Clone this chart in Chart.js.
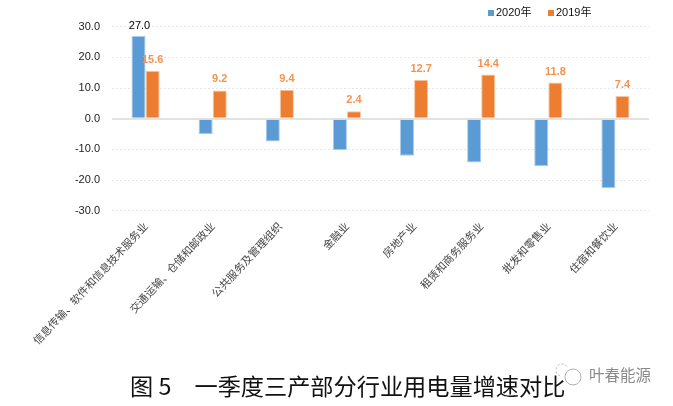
<!DOCTYPE html>
<html>
<head>
<meta charset="utf-8">
<script src="https://cdn.jsdelivr.net/npm/chart.js@4"></script>
<style>
  html, body { margin: 0; padding: 0; background: #fff; }
  #wrap { width: 673px; height: 406px; }
</style>
</head>
<body>
<div id="wrap"><canvas id="industryChart"></canvas></div>
<script>
const categories = ['信息传输、软件和信息技术服务业', '交通运输、仓储和邮政业', '公共服务及管理组织', '金融业', '房地产业', '租赁和商务服务业', '批发和零售业', '住宿和餐饮业'];
const values2020 = [27.0, -5.1, -7.4, -10.2, -12.1, -14.3, -15.5, -22.7];
const values2019 = [15.6, 9.2, 9.4, 2.4, 12.7, 14.4, 11.8, 7.4];
const chartTitle = '图 5\u3000一季度三产部分行业用电量增速对比';
const watermark = '叶春能源';

const cjkFont = '"Liberation Sans", "Noto Sans CJK SC", sans-serif';

// Value labels, legend, caption and watermark sit where the axes leave no room for the built-in ones
const annotations = {
    id: 'annotations',
    afterDatasetsDraw(chart) {
        const ctx = chart.ctx;
        ctx.save();
        ctx.textAlign = 'center';
        ctx.textBaseline = 'alphabetic';
        ctx.font = '11px ' + cjkFont;

        // only the first blue bar carries a label in the original
        const blue = chart.getDatasetMeta(0).data[0];
        ctx.fillStyle = '#000000';
        ctx.fillText(values2020[0].toFixed(1), blue.x + 1, blue.y - 7);

        ctx.font = 'bold 11px ' + cjkFont;
        ctx.fillStyle = '#F4934F';
        chart.getDatasetMeta(1).data.forEach((bar, i) => {
            ctx.fillText(values2019[i].toFixed(1), bar.x, bar.y - 8);
        });

        // legend
        ctx.textAlign = 'left';
        ctx.font = '11px ' + cjkFont;
        const legendX = [488, 548];
        chart.data.datasets.forEach((ds, i) => {
            ctx.fillStyle = ds.backgroundColor;
            ctx.fillRect(legendX[i], 10, 6, 6);
            ctx.fillStyle = '#111111';
            ctx.fillText(ds.label, legendX[i] + 8, 16);
        });

        // caption
        ctx.fillStyle = '#111111';
        ctx.font = '23.2px "Noto Sans CJK SC", sans-serif';
        ctx.fillText(chartTitle, 130, 395);

        // watermark
        ctx.fillStyle = '#8a8a8a';
        ctx.font = '15.5px "Noto Sans CJK SC", sans-serif';
        ctx.fillText(watermark, 589, 381);
        ctx.strokeStyle = '#b0b0b0';
        ctx.lineWidth = 1;
        ctx.beginPath();
        ctx.arc(573, 377, 8, 0, Math.PI * 2);
        ctx.stroke();
        ctx.setLineDash([2, 2]);
        ctx.beginPath();
        ctx.arc(562, 370, 6, Math.PI * 0.6, Math.PI * 1.9);
        ctx.stroke();
        ctx.restore();
    }
};

new Chart(document.getElementById('industryChart').getContext('2d'), {
    type: 'bar',
    data: {
        labels: categories,
        datasets: [{
            label: '2020年',
            data: values2020,
            backgroundColor: '#5B9BD5',
            borderColor: '#A9CDEC',
            borderWidth: 1
        }, {
            label: '2019年',
            data: values2019,
            backgroundColor: '#ED7D31',
            borderColor: '#F8C6A2',
            borderWidth: 1
        }]
    },
    options: {
        responsive: true,
        maintainAspectRatio: false,
        animation: false,
        layout: { padding: { top: 26.7, right: 24 } },
        datasets: { bar: { categoryPercentage: 0.42, barPercentage: 1 } },
        plugins: {
            legend: { display: false },
            title: { display: false },
            tooltip: { enabled: false }
        },
        scales: {
            x: {
                grid: { display: false },
                border: { display: false },
                afterFit(scale) { scale.height = 195.3; },
                ticks: {
                    autoSkip: false,
                    minRotation: 47,
                    maxRotation: 47,
                    padding: 1,
                    color: '#444444',
                    font: { size: 10.8, family: '"Noto Sans CJK SC", sans-serif' }
                }
            },
            y: {
                min: -30,
                max: 30,
                border: { display: false, dash: (c) => (c.tick && c.tick.value === 0 ? [] : [2, 2]) },
                grid: {
                    drawTicks: false,
                    color: (c) => (c.tick.value === 0 ? '#E2E2E2' : '#E6E6E6'),
                    lineWidth: (c) => (c.tick.value === 0 ? 2 : 1)
                },
                afterFit(scale) { scale.width = 112; },
                ticks: {
                    stepSize: 10,
                    padding: 12,
                    color: '#222222',
                    font: { size: 11, family: '"Liberation Sans", sans-serif' },
                    callback: (v) => v.toFixed(1)
                }
            }
        }
    },
    plugins: [annotations]
});
</script>
</body>
</html>
